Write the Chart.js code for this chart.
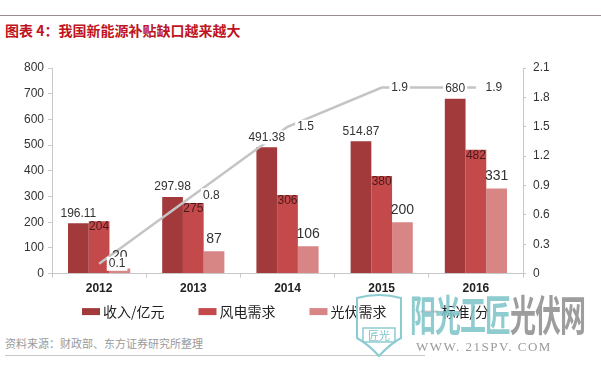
<!DOCTYPE html>
<html>
<head>
<meta charset="utf-8">
<script src="https://cdn.jsdelivr.net/npm/chart.js@4/dist/chart.umd.min.js"></script>
<style>
body{margin:0;background:#fff;width:601px;height:368px;overflow:hidden;position:relative;font-family:"Liberation Sans",Arial,sans-serif}
#topline{position:absolute;left:0;top:15px;width:601px;height:1px;background:#9a8c90}
#title{position:absolute;left:5px;top:20px;font:bold 14px "Noto Sans CJK SC";color:#c0141e;white-space:nowrap}
#chartBox{position:absolute;left:0;top:40px;width:601px;height:290px}
#source{position:absolute;left:5px;top:335px;font:11px "Noto Sans CJK SC";color:#9a9a9a;white-space:nowrap}
#bottomline{position:absolute;left:5px;top:355px;width:420px;height:1px;background:#c8c8c8}
#wm{position:absolute;left:410px;top:283px;font:bold 26px "Noto Sans CJK SC";letter-spacing:-1px;white-space:nowrap;transform:scaleY(1.6);transform-origin:0 0;opacity:.85}
#wm .a{color:#7cc3c8}
#wm .b{color:#8c8c8c}
#wmurl{position:absolute;left:416px;top:339px;font:13px "Liberation Serif";color:#9a9a9a;letter-spacing:1.5px;white-space:nowrap}
#shield{position:absolute;left:354px;top:294px}
</style>
</head>
<body>
<div id="topline"></div>
<div id="title">图表 4：我国新能源补贴缺口越来越大</div>
<div id="chartBox"><canvas id="barChart"></canvas></div>
<div id="source">资料来源：财政部、东方证券研究所整理</div>
<div id="bottomline"></div>
<svg id="shield" width="50" height="64" viewBox="0 0 50 64">
  <path d="M3 4 Q25 -2 47 4 L47 44 Q36 50 25 62 Q14 50 3 44 Z" fill="none" stroke="#8ccbd0" stroke-width="2"/>
  <rect x="9" y="34" width="32" height="14" fill="none" stroke="#8ccbd0" stroke-width="1.5"/>
  <text x="25" y="46" text-anchor="middle" font-size="11" fill="#7cc3c8" font-family="Noto Sans CJK SC">匠光</text>
</svg>
<div id="wm"><span class="a">阳光工匠</span><span class="b">光伏网</span></div>
<div id="wmurl">WWW. 21SPV. COM</div>
<script>
// kategori dan data
const years = ['2012', '2013', '2014', '2015', '2016'];
const pendapatan = [196.11, 297.98, 491.38, 514.87, 680];   // 收入/亿元
const anginDemand = [204, 275, 306, 380, 482];              // 风电需求
const suryaDemand = [20, 87, 106, 200, 331];                // 光伏需求
const standar = [0.1, 0.8, 1.5, 1.9, 1.9];                  // 标准/分
const leftTicks = [0, 100, 200, 300, 400, 500, 600, 700, 800];
const rightTicks = [0, 0.3, 0.6, 0.9, 1.2, 1.5, 1.8, 2.1];

const lineColor = '#c4c4c4';

// label angka di atas batang / titik
const valueLabels = {
    id: 'valueLabels',
    afterDatasetsDraw(chart) {
        const ctx = chart.ctx;
        ctx.save();
        ctx.textAlign = 'center';
        ctx.textBaseline = 'middle';
        chart.data.datasets.forEach((ds, i) => {
            const meta = chart.getDatasetMeta(i);
            const lb = ds.lbl;
            meta.data.forEach((el, j) => {
                const txt = String(ds.data[j]);
                const x = el.x + lb.dx;
                const y = el.y + lb.dy;
                ctx.font = lb.font;
                if (lb.bg) {
                    const w = ctx.measureText(txt).width;
                    ctx.fillStyle = '#fff';
                    ctx.fillRect(x - w / 2 - 2, y - 7, w + 4, 14);
                }
                ctx.fillStyle = lb.color;
                ctx.fillText(txt, x, y);
            });
        });
        ctx.restore();
    }
};

// legenda sendiri di bawah sumbu x
const bottomLegend = {
    id: 'bottomLegend',
    afterDraw(chart) {
        const ctx = chart.ctx;
        const area = chart.chartArea;
        const y = area.bottom + 38;
        const boxW = 18, gapText = 3, gapItem = 34;
        ctx.save();
        ctx.font = '14px "Noto Sans CJK SC"';
        ctx.textBaseline = 'middle';
        let x = area.left + 30;
        chart.data.datasets.forEach(ds => {
            if (ds.type === 'line') {
                ctx.strokeStyle = lineColor;
                ctx.lineWidth = 2;
                ctx.beginPath();
                ctx.moveTo(x, y);
                ctx.lineTo(x + boxW, y);
                ctx.stroke();
            } else {
                ctx.fillStyle = ds.backgroundColor;
                ctx.fillRect(x, y - 3.5, boxW, 7);
            }
            ctx.fillStyle = '#222';
            ctx.fillText(ds.label, x + boxW + gapText, y);
            x += boxW + gapText + ctx.measureText(ds.label).width + gapItem;
        });
        ctx.restore();
    }
};

const data = {
    labels: years,
    datasets: [
        {
            label: '收入/亿元',
            data: pendapatan,
            backgroundColor: '#a2393b',
            yAxisID: 'y',
            order: 1,
            lbl: { dx: 0, dy: -10, font: '12px "Liberation Sans"', color: '#333', bg: true }
        },
        {
            label: '风电需求',
            data: anginDemand,
            backgroundColor: '#c3494b',
            yAxisID: 'y',
            order: 1,
            lbl: { dx: 0, dy: 6, font: '12px "Liberation Sans"', color: '#4a1a1a', bg: false }
        },
        {
            label: '光伏需求',
            data: suryaDemand,
            backgroundColor: '#d88585',
            yAxisID: 'y',
            order: 1,
            lbl: { dx: 0, dy: -12, font: '14px "Liberation Sans"', color: '#333', bg: false }
        },
        {
            type: 'line',
            label: '标准/分',
            data: standar,
            borderColor: lineColor,
            backgroundColor: lineColor,
            borderWidth: 2.5,
            pointRadius: 0,
            tension: 0,
            yAxisID: 'y1',
            order: 0,
            lbl: { dx: 18, dy: 0, font: '12px "Liberation Sans"', color: '#333', bg: true }
        }
    ]
};

const config = {
    type: 'bar',
    data: data,
    options: {
        responsive: true,
        maintainAspectRatio: false,
        animation: false,
        datasets: {
            bar: { categoryPercentage: 0.66, barPercentage: 1 }
        },
        layout: { padding: { top: 28, left: 0, right: 0, bottom: 30 } },
        plugins: {
            tooltip: { enabled: false },
            legend: { display: false }
        },
        scales: {
            x: {
                grid: { drawOnChartArea: false, color: '#c8c8c8', tickLength: 4 },
                border: { color: '#c8c8c8' },
                ticks: { color: '#222', font: { family: '"Liberation Sans"', size: 12, weight: 'bold' }, padding: 4 }
            },
            y: {
                min: 0,
                max: 800,
                afterBuildTicks(scale) { scale.ticks = leftTicks.map(v => ({ value: v })); },
                afterFit(scale) { scale.width = 52; },
                grid: { drawOnChartArea: false, color: '#c8c8c8', tickLength: 4 },
                border: { color: '#c8c8c8' },
                ticks: { color: '#333', font: { family: '"Liberation Sans"', size: 12 }, padding: 4 }
            },
            y1: {
                position: 'right',
                min: 0,
                max: 2.1,
                afterBuildTicks(scale) { scale.ticks = rightTicks.map(v => ({ value: v })); },
                afterFit(scale) { scale.width = 78; },
                grid: { drawOnChartArea: false, color: '#c8c8c8', tickLength: 3 },
                border: { color: '#c8c8c8' },
                ticks: {
                    color: '#333',
                    font: { family: '"Liberation Sans"', size: 12 },
                    padding: 7,
                    callback: v => String(+v.toFixed(1))
                }
            }
        }
    },
    plugins: [valueLabels, bottomLegend]
};

const ctx = document.getElementById('barChart').getContext('2d');
new Chart(ctx, config);
</script>
</body>
</html>
